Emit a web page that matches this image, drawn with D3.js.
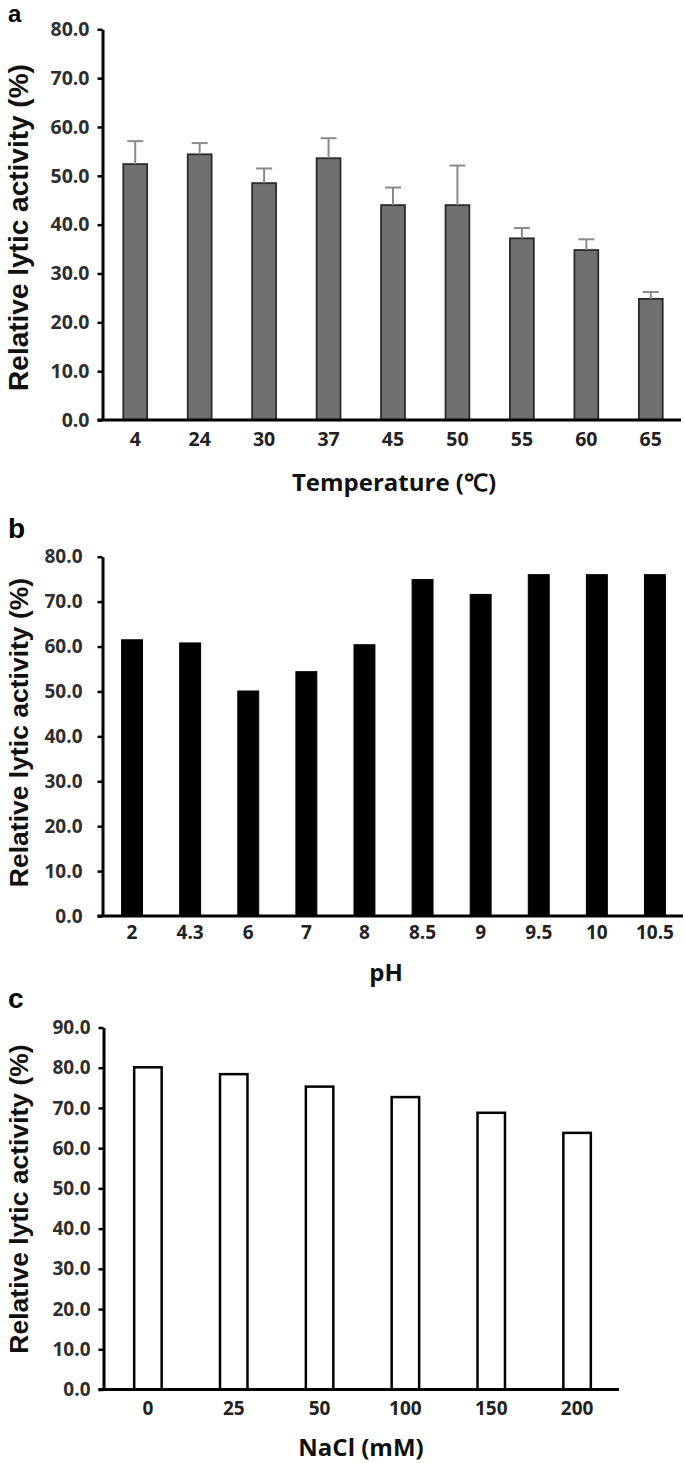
<!DOCTYPE html>
<html>
<head>
<meta charset="utf-8">
<script src="https://cdn.jsdelivr.net/npm/d3@7"></script>
<style>
  html, body { margin: 0; padding: 0; background: #fff; }
  svg { display: block; }
</style>
</head>
<body>
<svg id="chart" width="685" height="1463"></svg>
<script>
// ---------- DATA ----------
const tempCategories = ["4", "24", "30", "37", "45", "50", "55", "60", "65"];
const tempValues = [52.4, 54.4, 48.5, 53.6, 44.0, 44.0, 37.2, 34.8, 24.8];
const tempErrors = [4.7, 2.3, 3.0, 4.1, 3.6, 8.1, 2.1, 2.2, 1.4];
const tempTicks = [0, 10, 20, 30, 40, 50, 60, 70, 80];

const phCategories = ["2", "4.3", "6", "7", "8", "8.5", "9", "9.5", "10", "10.5"];
const phValues = [61.5, 60.8, 50.1, 54.4, 60.4, 74.9, 71.6, 76.0, 76.0, 76.0];
const phTicks = [0, 10, 20, 30, 40, 50, 60, 70, 80];

const naclCategories = ["0", "25", "50", "100", "150", "200"];
const naclValues = [80.1, 78.4, 75.3, 72.7, 68.8, 63.8];
const naclTicks = [0, 10, 20, 30, 40, 50, 60, 70, 80, 90];

const yTitle = "Relative lytic activity (%)";

// ---------- DRAW ----------
const svg = d3.select("#chart");
const fmt = d3.format(".1f");

function panel(cfg) {
  const g = svg.append("g");
  const y = d3.scaleLinear().domain([0, cfg.ymax]).range([cfg.y0, cfg.y1]);
  const x = d3.scaleBand().domain(cfg.categories).range([cfg.x0, cfg.x1])
              .paddingInner(cfg.pad).paddingOuter(cfg.pad / 2);

  // bars
  const bars = g.append("g");
  bars.selectAll("rect").data(cfg.values).join("rect")
    .attr("x", (d, i) => x(cfg.categories[i]))
    .attr("y", d => y(d))
    .attr("width", x.bandwidth())
    .attr("height", d => y(0) - y(d))
    .attr("fill", cfg.fill)
    .attr("stroke", cfg.stroke)
    .attr("stroke-width", cfg.strokeWidth);

  // error bars (upper only)
  if (cfg.errors) {
    const eg = g.append("g").attr("stroke", "#8a8a8a").attr("stroke-width", 2);
    cfg.values.forEach((v, i) => {
      const cx = x(cfg.categories[i]) + x.bandwidth() / 2;
      eg.append("line").attr("x1", cx).attr("x2", cx)
        .attr("y1", y(v)).attr("y2", y(v + cfg.errors[i]));
      eg.append("line").attr("x1", cx - 8).attr("x2", cx + 8)
        .attr("y1", y(v + cfg.errors[i])).attr("y2", y(v + cfg.errors[i]));
    });
  }

  // y axis
  const ya = g.append("g").attr("transform", `translate(${cfg.axisX},0)`)
    .call(d3.axisLeft(y).tickValues(cfg.ticks).tickFormat(fmt)
      .tickSize(5).tickSizeOuter(0).tickPadding(cfg.tickPad));
  ya.select(".domain").attr("stroke", "#000").attr("stroke-width", 3);
  ya.selectAll(".tick line").attr("stroke", "#000").attr("stroke-width", 2.5);
  ya.selectAll(".tick text")
    .attr("font-family", "'Open Sans', sans-serif").attr("font-weight", 700)
    .attr("font-size", cfg.tickFont).attr("fill", "#2e2e2e");

  // x axis
  const xa = g.append("g").attr("transform", `translate(0,${y(0)})`)
    .call(d3.axisBottom(x).tickSize(0).tickPadding(cfg.xTickPad));
  xa.select(".domain").remove();
  xa.selectAll(".tick text")
    .attr("font-family", "'Open Sans', sans-serif").attr("font-weight", 700)
    .attr("font-size", cfg.tickFont).attr("fill", "#222");
  g.append("line")
    .attr("x1", cfg.axisX - 5).attr("x2", cfg.xLineEnd)
    .attr("y1", y(0)).attr("y2", y(0))
    .attr("stroke", "#000").attr("stroke-width", 3);

  // y title
  g.append("text")
    .attr("transform", `translate(28,${cfg.yTitleY}) rotate(-90)`)
    .attr("text-anchor", "middle")
    .attr("font-family", "'Liberation Sans', Arial, sans-serif")
    .attr("font-weight", 700).attr("font-size", cfg.yTitleFont).attr("fill", "#111")
    .text(yTitle);

  // x title
  g.append("text")
    .attr("x", cfg.xTitleX).attr("y", cfg.xTitleY)
    .attr("text-anchor", "middle")
    .attr("font-family", "'Open Sans', sans-serif")
    .attr("font-weight", 700).attr("font-size", 24).attr("fill", "#111")
    .text(cfg.xTitle);

  // panel letter
  g.append("text")
    .attr("x", 8).attr("y", cfg.letterY)
    .attr("font-family", "'Liberation Sans', Arial, sans-serif")
    .attr("font-weight", 700).attr("font-size", cfg.letterFont).attr("fill", "#000")
    .text(cfg.letter);
}

panel({
  categories: tempCategories, values: tempValues, errors: tempErrors, ticks: tempTicks,
  ymax: 80, y0: 420, y1: 29.3, x0: 103, x1: 683, pad: 0.63, axisX: 102.5,
  fill: "#707070", stroke: "#2a2a2a", strokeWidth: 1.8,
  tickPad: 8, tickFont: 19.5, xTickPad: 12, xLineEnd: 681,
  yTitleY: 227.5, yTitleFont: 28,
  xTitle: "Temperature (℃)", xTitleX: 394, xTitleY: 491,
  letter: "a", letterY: 22, letterFont: 24
});

panel({
  categories: phCategories, values: phValues, ticks: phTicks,
  ymax: 80, y0: 916, y1: 556.7, x0: 103, x1: 684, pad: 0.64, axisX: 102.5,
  fill: "#000", stroke: "#000", strokeWidth: 1,
  tickPad: 15, tickFont: 19, xTickPad: 10, xLineEnd: 683,
  yTitleY: 732.5, yTitleFont: 26.5,
  xTitle: "pH", xTitleX: 386, xTitleY: 981,
  letter: "b", letterY: 538, letterFont: 28
});

panel({
  categories: naclCategories, values: naclValues, ticks: naclTicks,
  ymax: 90, y0: 1389.5, y1: 1027.5, x0: 105, x1: 620, pad: 0.68, axisX: 103.5,
  fill: "#fff", stroke: "#000", strokeWidth: 2.5,
  tickPad: 8, tickFont: 19, xTickPad: 12, xLineEnd: 619,
  yTitleY: 1199, yTitleFont: 26.5,
  xTitle: "NaCl (mM)", xTitleX: 361, xTitleY: 1456,
  letter: "c", letterY: 1008, letterFont: 28
});
</script>
</body>
</html>
